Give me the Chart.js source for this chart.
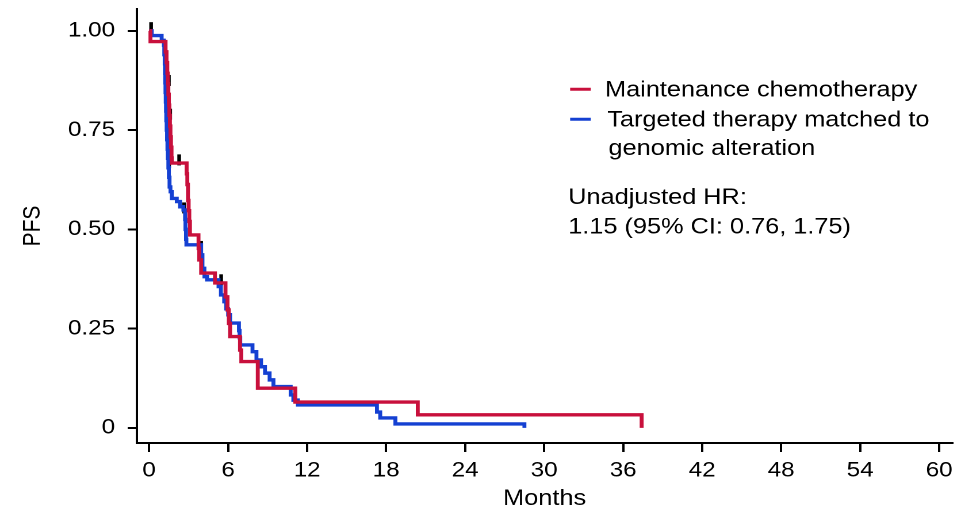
<!DOCTYPE html>
<html>
<head>
<meta charset="utf-8">
<script src="https://cdn.jsdelivr.net/npm/chart.js@4"></script>
<style>
  html, body { margin: 0; padding: 0; background: #fff; overflow: hidden; }
  #wrap { width: 839px; height: 510px; transform: scaleX(1.1502); transform-origin: 0 0; }
</style>
</head>
<body>
<div id="wrap"><canvas id="pfsChart"></canvas></div>
<script>
// Kaplan-Meier steps (months, survival)
const chemoTimes = [0, 0.1, 1.25, 1.32, 1.38, 1.42, 1.46, 1.5, 1.54, 1.58, 1.62, 1.66, 1.7, 1.72,
  2.85, 2.9, 2.95, 3.0, 3.05, 3.1, 3.75, 3.8, 3.95, 5.0, 5.8, 5.95, 6.05, 6.15, 6.9, 7.0, 8.25, 11.1, 20.4, 37.4];
const chemoSurv = [1.0, 0.973, 0.947, 0.92, 0.893, 0.867, 0.84, 0.813, 0.787, 0.76, 0.733, 0.707, 0.68, 0.667,
  0.64, 0.613, 0.573, 0.547, 0.52, 0.486, 0.452, 0.423, 0.39, 0.365, 0.33, 0.297, 0.263, 0.23, 0.196, 0.167, 0.1, 0.065, 0.033, 0];

const targetedTimes = [0, 0.2, 0.95, 1.12, 1.15, 1.18, 1.2, 1.22, 1.24, 1.26, 1.28, 1.3, 1.33, 1.36, 1.39, 1.42, 1.46, 1.5, 1.55,
  1.62, 1.72, 2.1, 2.35, 2.6, 2.73, 2.76, 2.8, 2.83, 3.95, 4.05, 4.2, 4.4, 5.27, 5.45, 5.7, 5.85, 6.0, 6.15,
  6.82, 6.87, 6.92, 7.85, 8.15, 8.5, 8.8, 9.15, 9.44, 10.75, 10.95, 11.3, 17.3, 17.55, 18.7, 28.5];
const targetedSurv = [1.0, 0.988, 0.976, 0.964, 0.94, 0.917, 0.893, 0.869, 0.845, 0.821, 0.798, 0.774, 0.75, 0.726, 0.702, 0.679, 0.655, 0.631, 0.607,
  0.595, 0.578, 0.57, 0.557, 0.549, 0.525, 0.5, 0.475, 0.461, 0.436, 0.402, 0.381, 0.373, 0.356, 0.335, 0.318, 0.3, 0.285, 0.264,
  0.245, 0.227, 0.209, 0.192, 0.171, 0.154, 0.138, 0.121, 0.104, 0.083, 0.07, 0.058, 0.04, 0.025, 0.01, 0];

// censoring marks
const censorTimes = [0.15, 1.34, 1.5, 1.6, 1.52, 2.28, 2.66, 3.95, 5.47];
const censorSurv = [1.008, 0.91, 0.875, 0.79, 0.668, 0.675, 0.554, 0.457, 0.373];

const xTicks = [0, 6, 12, 18, 24, 30, 36, 42, 48, 54, 60];
const yTicks = [0, 0.25, 0.5, 0.75, 1];
const yTickLabels = ['0', '0.25', '0.50', '0.75', '1.00'];

const seriesNames = ['Maintenance chemotherapy', 'Targeted therapy matched to', 'genomic alteration'];
const hrText = ['Unadjusted HR:', '1.15 (95% CI: 0.76, 1.75)'];

const RED = '#c8103c';
const BLUE = '#1440d2';
const FONT = '"Liberation Sans", Arial, Helvetica, sans-serif';

const toPoints = (xs, ys) => xs.map((x, i) => ({ x: x, y: ys[i] }));

const legendPlugin = {
  id: 'kmLegend',
  afterDraw(chart) {
    const c = chart.ctx;
    c.save();
    c.lineWidth = 3;
    c.strokeStyle = RED;
    c.beginPath(); c.moveTo(495.7, 89.3); c.lineTo(513.6, 89.3); c.stroke();
    c.strokeStyle = BLUE;
    c.beginPath(); c.moveTo(495.7, 119.3); c.lineTo(513.6, 119.3); c.stroke();
    c.fillStyle = '#000';
    c.font = '22px ' + FONT;
    c.textBaseline = 'alphabetic';
    c.textAlign = 'left';
    c.fillText(seriesNames[0], 526, 96.7);
    c.fillText(seriesNames[1], 528, 126.7);
    c.fillText(seriesNames[2], 529, 155);
    c.fillText(hrText[0], 494, 204);
    c.fillText(hrText[1], 494, 233.3);
    c.restore();
  }
};

const ctx = document.getElementById('pfsChart').getContext('2d');
const pfsChart = new Chart(ctx, {
  type: 'scatter',
  data: {
    datasets: [{
      label: seriesNames[0],
      data: toPoints(chemoTimes, chemoSurv),
      showLine: true,
      stepped: 'before',
      borderColor: RED,
      borderWidth: 3.4,
      pointRadius: 0,
      borderJoinStyle: 'miter'
    }, {
      label: seriesNames[1] + ' ' + seriesNames[2],
      data: toPoints(targetedTimes, targetedSurv),
      showLine: true,
      stepped: 'before',
      borderColor: BLUE,
      borderWidth: 3.4,
      pointRadius: 0,
      borderJoinStyle: 'miter'
    }, {
      label: 'Censored',
      data: toPoints(censorTimes, censorSurv),
      showLine: false,
      pointStyle: 'line',
      rotation: 90,
      pointRadius: 5.5,
      borderColor: '#000',
      backgroundColor: '#000',
      borderWidth: 3.2
    }]
  },
  options: {
    responsive: true,
    maintainAspectRatio: false,
    animation: false,
    devicePixelRatio: 2,
    layout: { padding: { left: 0, right: 11, top: 9, bottom: 0 } },
    plugins: {
      legend: { display: false },
      tooltip: { enabled: false }
    },
    scales: {
      x: {
        type: 'linear',
        min: -0.93,
        max: 61,
        afterBuildTicks: s => { s.ticks = xTicks.map(v => ({ value: v })); },
        afterFit: s => { s.height = 67; s.paddingLeft = 0; s.paddingRight = 0; },
        grid: { drawOnChartArea: false, drawTicks: true, tickLength: 9, color: '#000', lineWidth: 2 },
        border: { display: true, color: '#000', width: 2 },
        ticks: { color: '#000', padding: 6, maxRotation: 0, font: { family: FONT, size: 21 } },
        title: { display: true, text: 'Months', color: '#000', padding: { top: 0, bottom: -2 }, font: { family: FONT, size: 22 } }
      },
      y: {
        type: 'linear',
        min: -0.038,
        max: 1.055,
        afterBuildTicks: s => { s.ticks = yTicks.map(v => ({ value: v })); },
        afterFit: s => { s.width = 119; s.paddingTop = 0; s.paddingBottom = 0; },
        grid: { drawOnChartArea: false, drawTicks: true, tickLength: 8, color: '#000', lineWidth: 2 },
        border: { display: true, color: '#000', width: 2 },
        ticks: {
          color: '#000', padding: 11, font: { family: FONT, size: 21 },
          callback: v => yTickLabels[yTicks.indexOf(v)]
        },
        title: { display: true, text: 'PFS', color: '#000', padding: { top: 16, bottom: 0 }, font: { family: FONT, size: 21 } }
      }
    }
  },
  plugins: [legendPlugin]
});
</script>
</body>
</html>
